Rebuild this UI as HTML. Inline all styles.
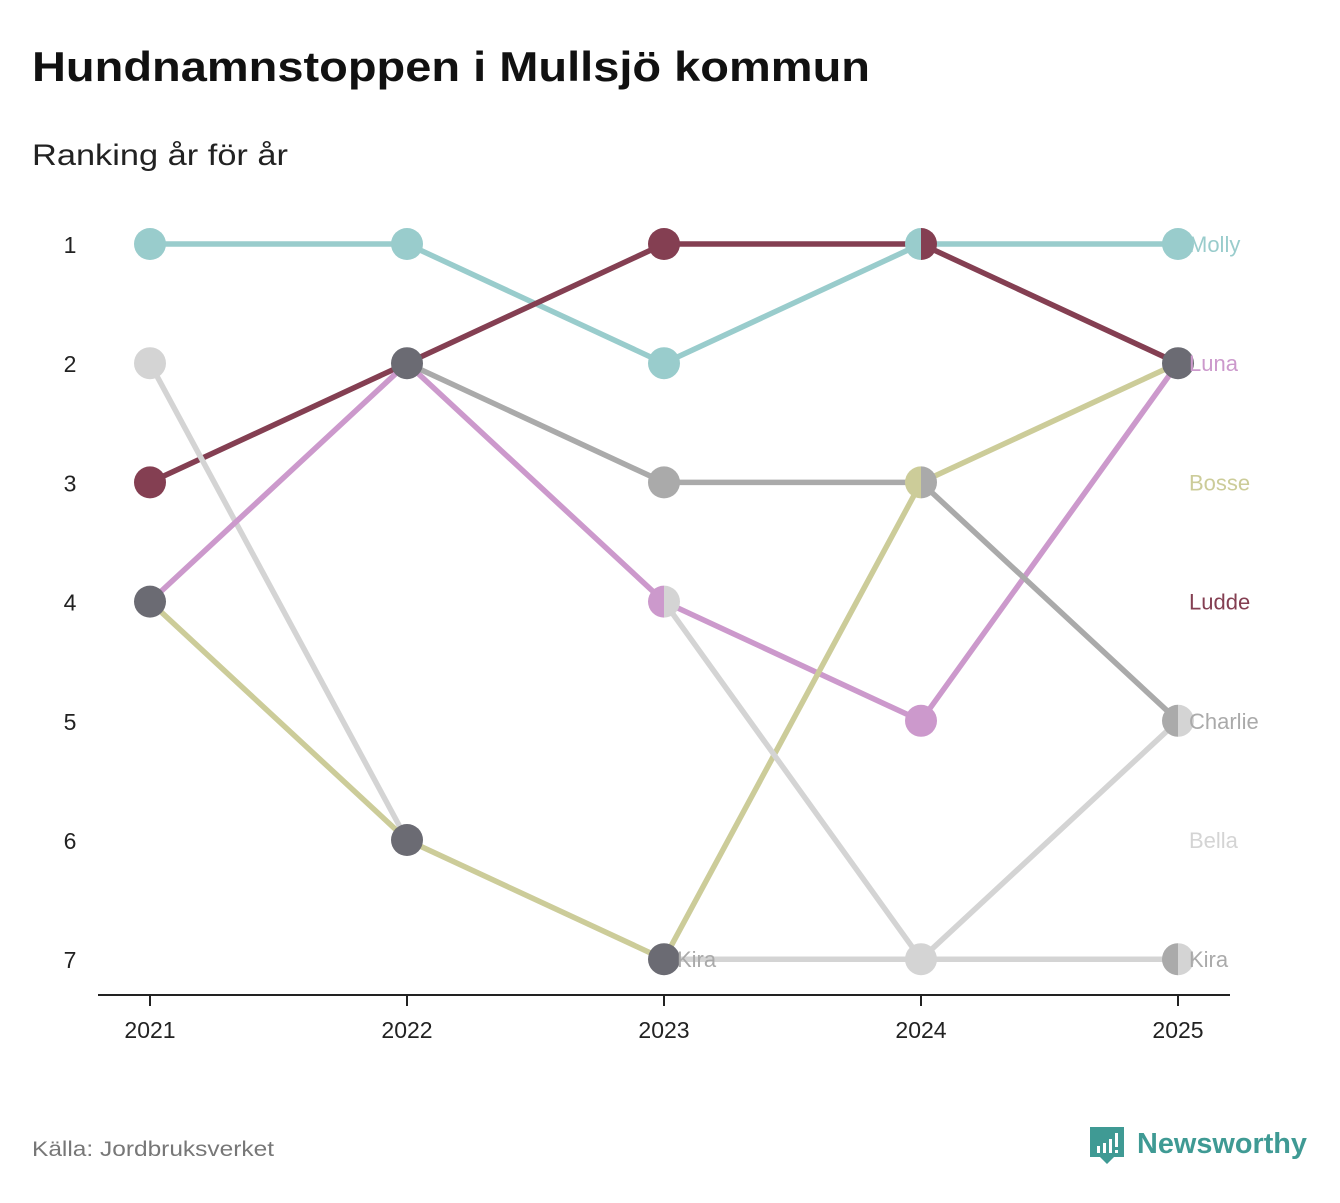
<!DOCTYPE html>
<html><head><meta charset="utf-8"><style>
body{margin:0;background:#fff;font-family:"Liberation Sans","DejaVu Sans",sans-serif;}
svg text{font-family:"Liberation Sans","DejaVu Sans",sans-serif;}
</style></head><body>
<svg id="c" width="1340" height="1198">
<text x="32" y="81" font-size="42" font-weight="bold" fill="#111" textLength="838" lengthAdjust="spacingAndGlyphs">Hundnamnstoppen i Mullsjö kommun</text>
<text x="32" y="165" font-size="30" fill="#222" textLength="256" lengthAdjust="spacingAndGlyphs">Ranking år för år</text>
<text x="32" y="1156" font-size="21" fill="#777" textLength="242" lengthAdjust="spacingAndGlyphs">Källa: Jordbruksverket</text>
<g>
<path d="M1090 1127 h34 v30 h-10 l-7 7 l-7 -7 h-10 z" fill="#3f9a94"/>
<rect x="1097" y="1146" width="3" height="7" fill="#fff"/><rect x="1103" y="1143" width="3" height="10" fill="#fff"/><rect x="1109" y="1139" width="3" height="14" fill="#fff"/><rect x="1115" y="1133" width="3" height="14" fill="#fff"/><rect x="1115" y="1150" width="3" height="3" fill="#fff"/>
<text x="1137" y="1153" font-size="29" font-weight="bold" fill="#3f9a94" textLength="170" lengthAdjust="spacingAndGlyphs">Newsworthy</text>
</g>
<g id="plot"></g>
</svg>
<script>
const years=[2021,2022,2023,2024,2025];
const names=["Molly","Ludde","Bella","Luna","Bosse","Charlie","Kira","Other"];
const molly=[1,1,2,1,1];
const ludde=[3,2,1,1,2];
const bella=[2,6,null,null,null];
const luna=[4,2,4,5,2];
const bosse=[4,6,7,3,2];
const charlie=[null,2,3,3,5];
const kira=[null,null,7,7,7];
const other=[null,null,4,7,5];
const labelSlots=[1,4,6,2,3,5,7,null];
const ranks=[1,2,3,4,5,6,7];
const series=[molly,ludde,bella,luna,bosse,charlie,kira,other];
const colors=["#99cccc","#843f52","#d4d4d4","#cc99cc","#cccc99","#aaaaaa","#aaaaaa","#d4d4d4"];
const lineColors=["#99cccc","#843f52","#d4d4d4","#cc99cc","#cccc99","#aaaaaa","#d4d4d4","#d4d4d4"];
const NS="http://www.w3.org/2000/svg";
const g=document.getElementById('plot');
const x=i=>150+i*257;
const y=r=>244+(r-1)*119.2;
function mk(t,a,p){const e=document.createElementNS(NS,t);for(const k in a)e.setAttribute(k,a[k]);(p||g).appendChild(e);return e;}
let ax=mk('line',{x1:98,x2:1230,y1:995,y2:995,stroke:'#222','stroke-width':2});


years.forEach((yr,i)=>{
 let t=mk('line',{x1:x(i),x2:x(i),y1:995,y2:1006,stroke:'#222','stroke-width':2});
 
 
 let l=mk('text',{x:x(i),y:1038,'text-anchor':'middle','font-size':23,fill:'#222'});l.textContent=yr;
 
 
});
ranks.forEach(r=>{
 let l=mk('text',{x:70,y:y(r)+9,'text-anchor':'middle','font-size':23,fill:'#222'});l.textContent=r;
 
 
});
series.forEach((s,si)=>{
 let pts=[];s.forEach((v,i)=>{if(v!=null)pts.push(x(i)+','+y(v));});
 let p=mk('polyline',{points:pts.join(' '),fill:'none',stroke:lineColors[si],'stroke-width':5.5,'stroke-linejoin':'round'});
 
 
});
const dark="#6b6b73";
const groups={};
series.forEach((s,si)=>s.forEach((v,i)=>{if(v!=null){const k=i+'_'+v;(groups[k]=groups[k]||[]).push(si);}}));
const darkKeys=["0_4","1_2","1_6","2_7","4_2"];
const splits={"3_3":["#cccc99","#aaaaaa"],"4_5":["#aaaaaa","#d4d4d4"],"2_4":["#cc99cc","#d4d4d4"],"3_1":["#99cccc","#843f52"],"4_7":["#aaaaaa","#d4d4d4"]};
const solids={"3_7":"#d4d4d4"};
for(const k in groups){
 const [i,v]=k.split('_').map(Number);const m=groups[k];const cx=x(i),cy=y(v),R=16;
 let grp=mk('g',{});
 
 
 if(darkKeys.includes(k)){mk('circle',{cx,cy,r:R,fill:dark},grp);}
 else if(solids[k]){mk('circle',{cx,cy,r:R,fill:solids[k]},grp);}
 else if(splits[k]){
  mk('path',{d:`M${cx} ${cy-R}A${R} ${R} 0 0 0 ${cx} ${cy+R}Z`,fill:splits[k][0]},grp);
  mk('path',{d:`M${cx} ${cy-R}A${R} ${R} 0 0 1 ${cx} ${cy+R}Z`,fill:splits[k][1]},grp);
 } else mk('circle',{cx,cy,r:R,fill:colors[m[0]]},grp);
}
names.forEach((n,si)=>{
 if(labelSlots[si]==null)return;
 let l=mk('text',{x:1189,y:y(labelSlots[si])+8,'font-size':22,fill:colors[si]});l.textContent=n;
 
 
});
let kl=mk('text',{x:677,y:y(kira[2])+8,'font-size':22,fill:'#aaaaaa'});kl.textContent="Kira";


</script>
</body></html>
